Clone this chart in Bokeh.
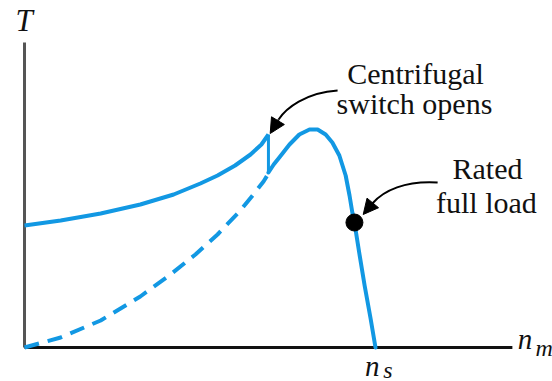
from bokeh.plotting import figure
from bokeh.models import Range1d, Arrow, NormalHead
from bokeh.core.properties import value
from bokeh.embed import file_html
from bokeh.resources import INLINE

# Torque-speed characteristic of a capacitor-start / split-phase induction motor.
# Speed is expressed as a fraction of synchronous speed n_s, torque relative to
# the rated full-load torque.

# Starting (main + auxiliary winding) curve, up to the point where the
# centrifugal switch opens
start_speed = [0.0, 0.103, 0.217, 0.330, 0.425, 0.501, 0.550, 0.600, 0.644, 0.675, 0.695]
start_torque = [0.976, 1.016, 1.072, 1.144, 1.224, 1.312, 1.376, 1.456, 1.544, 1.624, 1.704]

# Main winding alone, below the switch-out speed (not followed by the motor)
main_low_speed = [0.0, 0.103, 0.217, 0.330, 0.416, 0.487, 0.550, 0.615, 0.652, 0.681, 0.695]
main_low_torque = [0.0, 0.080, 0.216, 0.408, 0.584, 0.744, 0.904, 1.096, 1.224, 1.328, 1.392]

# Main winding alone, after the switch opens, up to synchronous speed
main_run_speed = [0.695, 0.710, 0.726, 0.755, 0.783, 0.812, 0.835, 0.858, 0.877, 0.897,
                  0.915, 0.926, 0.934, 0.940, 0.954, 0.969, 0.986, 1.0]
main_run_torque = [1.40, 1.464, 1.52, 1.624, 1.704, 1.744, 1.744, 1.704, 1.64, 1.536,
                   1.376, 1.216, 1.08, 1.0, 0.752, 0.496, 0.232, 0.0]

# Switch-out speed and the torque jump it causes
switch_speed = [0.695, 0.695]
switch_torque = [1.704, 1.40]

# Rated full-load operating point
rated_speed = [0.940]
rated_torque = [1.0]

# Axis extents
axis_speed_max = 1.39
axis_torque_max = 2.44

BLUE = "#1298e3"
SERIF = "Liberation Serif"

p = figure(width=552, height=381, output_backend="svg", toolbar_location=None,
           x_axis_type=None, y_axis_type=None,
           x_range=Range1d(-0.0684, 1.5043), y_range=Range1d(-0.272, 2.776),
           min_border=0, outline_line_color=None)
p.grid.visible = False
p.background_fill_color = "white"
p.border_fill_color = "white"

# Axes
p.line([0, 0], [0, axis_torque_max], line_color="#555555", line_width=3)
p.line([0, axis_speed_max], [0, 0], line_color="#111111", line_width=3)

# Curves
p.line(main_low_speed, main_low_torque, line_color=BLUE, line_width=4,
       line_dash="15 9", line_cap="butt")
p.line(start_speed, start_torque, line_color=BLUE, line_width=4, line_join="round")
p.line(switch_speed, switch_torque, line_color=BLUE, line_width=3)
p.line(main_run_speed, main_run_torque, line_color=BLUE, line_width=4,
       line_join="round", line_cap="round")

# Rated point
p.scatter(rated_speed, rated_torque, size=17, color="black")

# Annotation arrows
p.bezier(x0=[0.892], y0=[2.056], x1=[0.724], y1=[1.824],
         cx0=[0.801], cy0=[2.04], cx1=[0.744], cy1=[1.912],
         line_color="black", line_width=2)
p.add_layout(Arrow(x_start=0.724, y_start=1.824, x_end=0.700, y_end=1.712,
                   line_color="black", line_width=2,
                   end=NormalHead(size=15, fill_color="black", line_color="black")))

p.bezier(x0=[1.177], y0=[1.32], x1=[0.991], y1=[1.152],
         cx0=[1.085], cy0=[1.336], cx1=[1.023], cy1=[1.256],
         line_color="black", line_width=2)
p.add_layout(Arrow(x_start=0.991, y_start=1.152, x_end=0.965, y_end=1.064,
                   line_color="black", line_width=2,
                   end=NormalHead(size=15, fill_color="black", line_color="black")))

# Texts
def add_text(x, y, text, size, align="center", style="normal"):
    p.text(x=[x], y=[y], text=[text], text_font=value(SERIF),
           text_font_size=value(size), text_align=align,
           text_baseline="alphabetic", text_font_style=style,
           text_color="#111111")

add_text(1.114, 2.192, "Centrifugal", "30px")
add_text(1.111, 1.952, "switch opens", "30px")
add_text(1.319, 1.432, "Rated", "30px")
add_text(1.316, 1.160, "full load", "30px")

add_text(-0.026, 2.616, "T", "31px", align="left", style="italic")
add_text(1.405, 0.072, "n", "29px", align="left", style="italic")
add_text(1.456, 0.000, "m", "24px", align="left", style="italic")
add_text(0.970, -0.144, "n", "29px", align="left", style="italic")
add_text(1.022, -0.176, "s", "24px", align="left", style="italic")

open("out.html", "w").write(file_html(p, INLINE))
